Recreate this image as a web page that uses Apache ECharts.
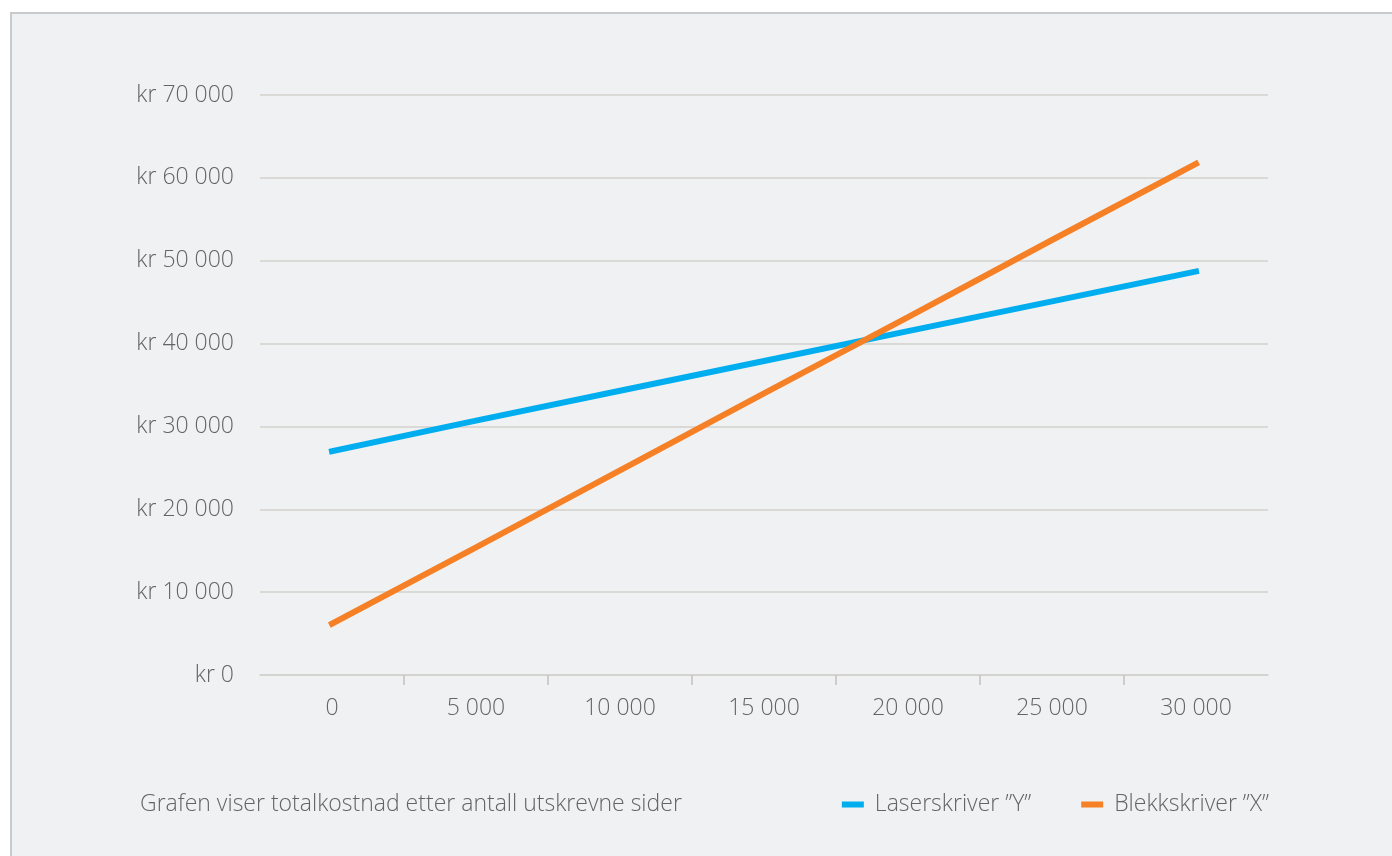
<!DOCTYPE html>
<html lang="no">
<head>
<meta charset="utf-8">
<title>Totalkostnad etter antall utskrevne sider</title>
<script src="https://cdn.jsdelivr.net/npm/echarts@6/dist/echarts.min.js"></script>
<style>
  html, body { margin: 0; padding: 0; background: #ffffff; width: 1392px; height: 856px; overflow: hidden; }
  #panel {
    position: absolute; left: 10px; top: 12px; right: -4px; bottom: -4px;
    background: #f0f1f3; border-top: 2px solid #c9cacc; border-left: 2px solid #c9cacc;
  }
  #chart { position: absolute; left: 0; top: 0; width: 1392px; height: 856px; }
</style>
</head>
<body>
<div id="panel"></div>
<div id="chart"></div>
<script>
// Antall utskrevne sider
const pages = [0, 5000, 10000, 15000, 20000, 25000, 30000];
// Delestreker mellom etikettene på x-aksen
const pageTicks = [2500, 7500, 12500, 17500, 22500, 27500];
// Totalkostnad i kroner
const laserCost = [27000, 30700, 34300, 37900, 41500, 45100, 48700];
const inkCost = [6200, 15400, 24700, 34000, 43200, 52500, 61700];
const seriesNames = ['Laserskriver ”Y”', 'Blekkskriver ”X”'];
const caption = 'Grafen viser totalkostnad etter antall utskrevne sider';

const FONT = '"Open Sans", "Noto Sans", sans-serif';
const TEXT = '#646464';
const GRID = '#d3d0cc';
const SIZE = 23;

const spaced = v => String(v).replace(/\B(?=(\d{3})+(?!\d))/g, ' ');
const fmtKr = v => 'kr ' + spaced(v);

const chart = echarts.init(document.getElementById('chart'), null, { renderer: 'canvas' });
chart.setOption({
  backgroundColor: 'transparent',
  animation: false,
  textStyle: { fontFamily: FONT },
  title: {
    text: caption,
    left: 135, top: 788,
    textStyle: { fontFamily: FONT, fontSize: SIZE, fontWeight: 300, color: TEXT }
  },
  legend: {
    right: 118, top: 788,
    icon: 'rect', itemWidth: 22, itemHeight: 6, itemGap: 50,
    textStyle: { fontFamily: FONT, fontSize: SIZE, fontWeight: 300, color: TEXT, padding: [0, 0, 0, 6] },
    data: seriesNames
  },
  grid: { left: 260, right: 124, top: 95, bottom: 181, containLabel: false },
  xAxis: {
    type: 'value',
    min: -2500, max: 32500,
    splitLine: { show: false },
    axisLine: { show: true, lineStyle: { color: GRID, width: 1.5 } },
    axisTick: { show: true, length: 10, customValues: pageTicks, lineStyle: { color: '#c4c1bd', width: 1.5 } },
    axisLabel: {
      margin: 22, customValues: pages,
      fontFamily: FONT, fontSize: SIZE, fontWeight: 300, color: TEXT,
      formatter: spaced
    }
  },
  yAxis: {
    type: 'value',
    min: 0, max: 70000, interval: 10000,
    axisLine: { show: false },
    axisTick: { show: false },
    splitLine: { lineStyle: { color: GRID, width: 1.5 } },
    axisLabel: { margin: 26, fontFamily: FONT, fontSize: SIZE, fontWeight: 300, color: TEXT, formatter: fmtKr }
  },
  series: [
    {
      name: seriesNames[0], type: 'line',
      data: pages.map((p, i) => [p, laserCost[i]]),
      symbol: 'none', color: '#00aeef',
      lineStyle: { width: 6, color: '#00aeef', cap: 'square' }
    },
    {
      name: seriesNames[1], type: 'line',
      data: pages.map((p, i) => [p, inkCost[i]]),
      symbol: 'none', color: '#f58025',
      lineStyle: { width: 6, color: '#f58025', cap: 'square' }
    }
  ]
});
</script>
</body>
</html>
